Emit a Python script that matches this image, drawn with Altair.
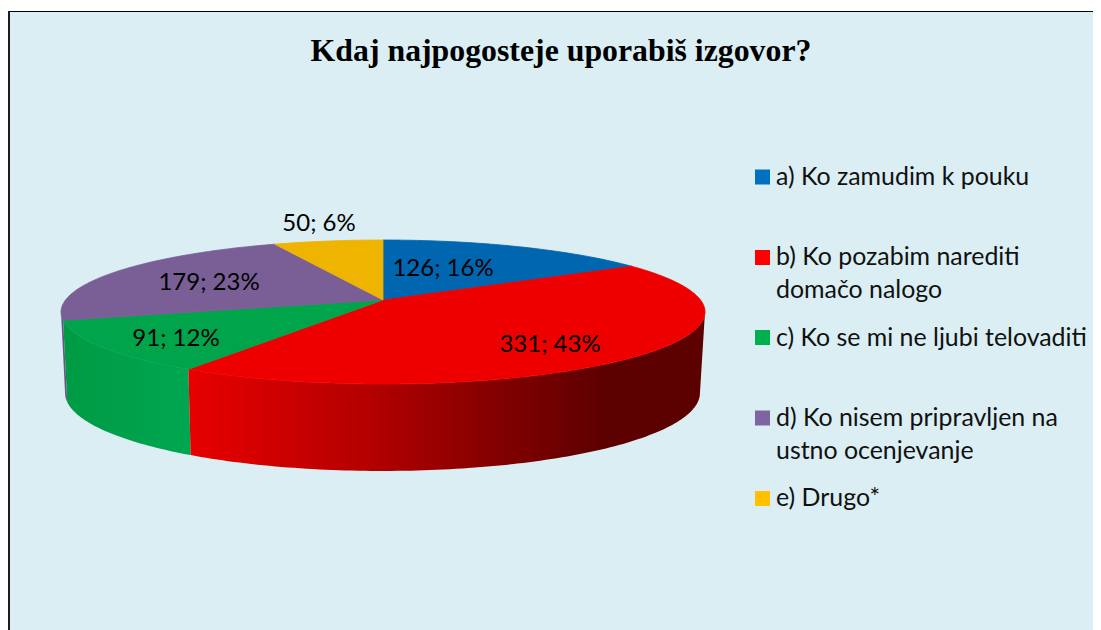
import math
import altair as alt
import pandas as pd

# --- chart values ---
TITLE = "Kdaj najpogosteje uporabiš izgovor?"
CATEGORIES = ["a) Ko zamudim k pouku", "b) Ko pozabim narediti\ndomačo nalogo",
              "c) Ko se mi ne ljubi telovaditi", "d) Ko nisem pripravljen na\nustno ocenjevanje", "e) Drugo*"]
VALUES = [126, 331, 91, 179, 50]
PERCENT = [16, 43, 12, 23, 6]
TOP_COLORS = ["#0066B0", "#EE0000", "#00A44B", "#795F96", "#EEB400"]
LEGEND_COLORS = ["#0070C0", "#FF0000", "#00B050", "#8064A2", "#FFC000"]

# --- layout (page pixels) ---
M = 8
W, H = 1085, 622
LABEL_XY = [(443, 269), (550, 345), (176, 339), (209, 283), (319, 224)]
SWATCH_Y = [177, 257.5, 337.5, 418, 498.5]
LEGEND_BASE = [185, 265, 346, 426, 506]
k = 1 / 6


def top(t):
    d = 1 + k * math.cos(t)
    return (383 + 317.5 * math.sin(t) / d - M, 300 - 70 * math.cos(t) / d - M)


def bottom(t):
    d = 1 + k * math.cos(t)
    return (382.5 + 313 * math.sin(t) / d - M, 380 - 75.8 * math.cos(t) / d - M)


def sweep(a, b):
    n = max(2, int(abs(b - a) / math.radians(1)))
    return [a + (b - a) * i / n for i in range(n + 1)]


total = sum(VALUES)
edges = [0.0]
for v in VALUES:
    edges.append(edges[-1] + v / total * 2 * math.pi)


def feature(ring):
    ring = [[round(x, 2), round(y, 2)] for x, y in ring]
    ring.append(ring[0])
    return {"type": "Feature", "properties": {}, "geometry": {"type": "Polygon", "coordinates": [ring]}}


def shape(ring, fill, stroke=None):
    mark = {"fill": fill, "stroke": stroke}
    if stroke:
        mark["strokeWidth"] = 0.8
    return alt.Chart(alt.Data(values=[feature(ring)])).mark_geoshape(**mark).project(
        type="identity", scale=1, translate=[0, 0])


def wall(a, b, fill):
    ts = sweep(a, b)
    return shape([top(t) for t in ts] + [bottom(t) for t in reversed(ts)], fill)


def grad(stops):
    return alt.Gradient(gradient="linear", x1=0, x2=1, y1=0, y2=0,
                        stops=[alt.GradientStop(offset=o, color=c) for o, c in stops])


side_r = math.acos(-k)
side_l = 2 * math.pi - side_r

layers = []
one = pd.DataFrame({"a": [0]})
# panel
layers.append(alt.Chart(one).mark_rect(fill="#DAEEF3").encode(
    x=alt.value(0), x2=alt.value(W), y=alt.value(3), y2=alt.value(H)))
layers.append(alt.Chart(one).mark_rule(color="#000000", strokeWidth=1).encode(
    x=alt.value(0), x2=alt.value(W), y=alt.value(3.5)))
layers.append(alt.Chart(one).mark_rule(color="#1E1E1E", strokeWidth=2).encode(
    x=alt.value(1), y=alt.value(3), y2=alt.value(H)))

# side walls
layers.append(wall(edges[3], side_l, "#6A5488"))
layers.append(wall(edges[2], edges[3], grad([(0, "#009A44"), (1, "#00A651")])))
layers.append(wall(side_r, edges[2], grad([(0, "#E80000"), (0.37, "#B00000"), (0.53, "#900000"),
                                           (0.81, "#5C0000"), (1, "#5C0000")])))
# top face wedges
apex = (383 - M, 300 - M)
for i, c in enumerate(TOP_COLORS):
    layers.append(shape([apex] + [top(t) for t in sweep(edges[i], edges[i + 1])], c, c))

x_s = alt.Scale(domain=[0, W], nice=False, zero=False)
y_s = alt.Scale(domain=[H, 0], nice=False, zero=False)

labels = pd.DataFrame({
    "x": [p[0] - M for p in LABEL_XY],
    "y": [p[1] - M for p in LABEL_XY],
    "t": [f"{v}; {p}%" for v, p in zip(VALUES, PERCENT)],
})
layers.append(alt.Chart(labels).mark_text(font="Lato", fontSize=24, color="#000000", align="center",
                                          baseline="middle").encode(
    x=alt.X("x:Q", scale=x_s, axis=None), y=alt.Y("y:Q", scale=y_s, axis=None), text="t:N"))

sw = pd.DataFrame({"x": [762.5 - M] * 5, "y": [y - M for y in SWATCH_Y], "c": CATEGORIES})
layers.append(alt.Chart(sw).mark_square(size=225, opacity=1).encode(
    x=alt.X("x:Q", scale=x_s, axis=None), y=alt.Y("y:Q", scale=y_s, axis=None),
    fill=alt.Fill("c:N", scale=alt.Scale(domain=CATEGORIES, range=LEGEND_COLORS), legend=None),
    stroke=alt.value(None)))

leg = pd.DataFrame({"x": [776 - M] * 5, "y": [y - M for y in LEGEND_BASE],
                    "t": [c.split("\n") for c in CATEGORIES]})
layers.append(alt.Chart(leg).mark_text(font="Lato", fontSize=24.9, color="#111111", align="left",
                                       baseline="alphabetic", lineHeight=33).encode(
    x=alt.X("x:Q", scale=x_s, axis=None), y=alt.Y("y:Q", scale=y_s, axis=None), text="t"))

chart = alt.layer(*layers).properties(
    width=W, height=H, padding=0, autosize=alt.AutoSizeParams(type="none"),
    title=alt.TitleParams(TITLE, font="Liberation Serif", fontSize=31.8, fontWeight="bold", color="#000000",
                          anchor="middle", frame="group", dx=10.5, offset=-60),
    background="white",
).configure_view(stroke=None)

chart.save("out.html", embed_options={"renderer": "svg", "actions": False})
